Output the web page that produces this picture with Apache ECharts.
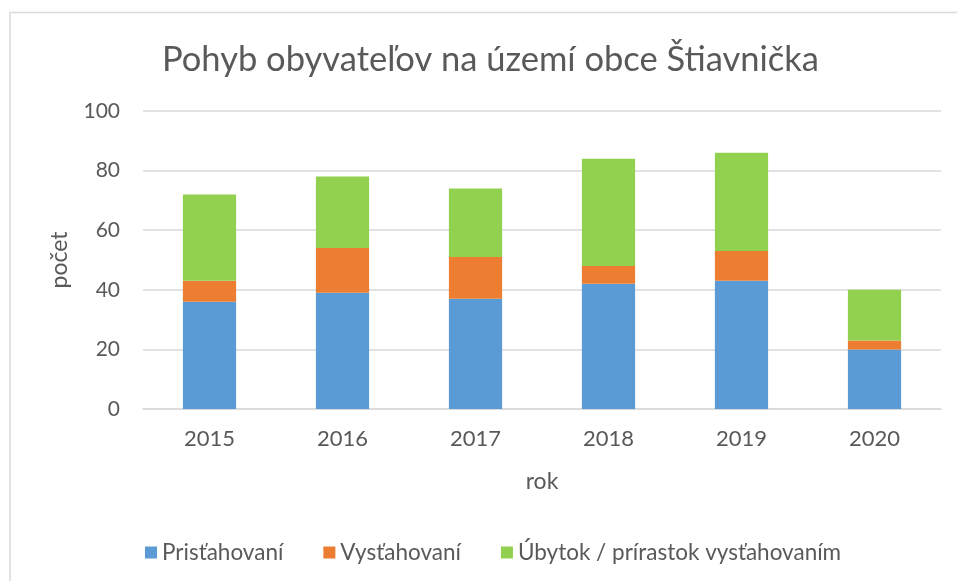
<!DOCTYPE html>
<html>
<head>
<meta charset="utf-8">
<script src="https://cdn.jsdelivr.net/npm/echarts@6/dist/echarts.min.js"></script>
<style>
html,body{margin:0;padding:0;background:#fff;}
#chart{width:957px;height:581px;}
</style>
</head>
<body>
<div id="chart"></div>
<script>
const categories = ['2015','2016','2017','2018','2019','2020'];
const prist = [36, 39, 37, 42, 43, 20];
const vyst = [7, 15, 14, 6, 10, 3];
const ubytok = [29, 24, 23, 36, 33, 17];
const yTicks = [0, 20, 40, 60, 80, 100];

const FONT = 'Lato';
const TXT = '#595959';
const chart = echarts.init(document.getElementById('chart'));
chart.setOption({
  animation: false,
  backgroundColor: '#fff',
  textStyle: { fontFamily: FONT },
  title: {
    text: 'Pohyb obyvateľov na území obce Štiavnička',
    left: 157,
    top: 37,
    textStyle: { fontFamily: FONT, fontSize: 34.5, fontWeight: 'normal', color: TXT }
  },
  graphic: [{
    type: 'rect',
    shape: { x: 10, y: 12.5, width: 980, height: 620 },
    style: { fill: 'none', stroke: '#d9d9d9', lineWidth: 1.5 },
    silent: true
  }],
  legend: {
    data: ['Prisťahovaní', 'Vysťahovaní', 'Úbytok / prírastok vysťahovaním'],
    left: 140,
    top: 536,
    itemWidth: 12,
    itemHeight: 12,
    itemGap: 40,
    icon: 'rect',
    textStyle: { fontFamily: FONT, fontSize: 22.5, color: TXT }
  },
  grid: { left: 143, right: 16, top: 111, bottom: 172 },
  xAxis: {
    type: 'category',
    data: categories,
    name: 'rok',
    nameLocation: 'middle',
    nameGap: 61,
    nameTextStyle: { fontFamily: FONT, fontSize: 23, color: TXT },
    axisTick: { show: false },
    axisLine: { lineStyle: { color: '#d9d9d9', width: 1.5 } },
    axisLabel: { fontFamily: FONT, fontSize: 22, color: TXT, margin: 19 }
  },
  yAxis: {
    type: 'value',
    min: 0,
    max: 100,
    interval: 20,
    name: 'počet',
    nameLocation: 'middle',
    nameGap: 72,
    nameRotate: 90,
    nameTextStyle: { fontFamily: FONT, fontSize: 23, color: TXT },
    axisLine: { show: false },
    axisTick: { show: false },
    splitLine: { lineStyle: { color: '#d9d9d9', width: 1.5 } },
    axisLabel: {
      fontFamily: FONT, fontSize: 21, color: TXT, margin: 23,
      formatter: v => yTicks.includes(v) ? String(v) : ''
    }
  },
  series: [
    { name: 'Prisťahovaní', type: 'bar', stack: 's', data: prist, barWidth: '40%', itemStyle: { color: '#5B9BD5' } },
    { name: 'Vysťahovaní', type: 'bar', stack: 's', data: vyst, barWidth: '40%', itemStyle: { color: '#ED7D31' } },
    { name: 'Úbytok / prírastok vysťahovaním', type: 'bar', stack: 's', data: ubytok, barWidth: '40%', itemStyle: { color: '#92D050' } }
  ]
});
</script>
</body>
</html>
